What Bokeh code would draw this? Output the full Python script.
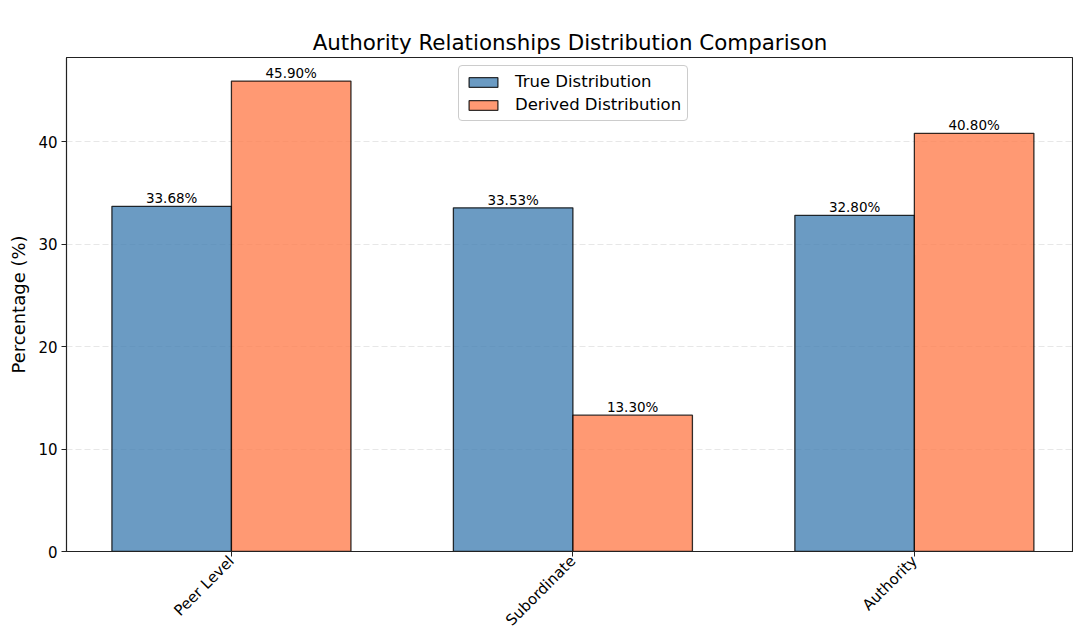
import math
import numpy as np
from bokeh.plotting import figure
from bokeh.models import ColumnDataSource, FixedTicker, Range1d, Title
from bokeh.embed import file_html
from bokeh.resources import INLINE
from bokeh.core.properties import value

categories = ["Peer Level", "Subordinate", "Authority"]
true_pct = [33.68, 33.53, 32.80]
derived_pct = [45.90, 13.30, 40.80]
y_ticks = [0, 10, 20, 30, 40]
series_names = ["True Distribution", "Derived Distribution"]
title_text = "Authority Relationships Distribution Comparison"

FONT = "DejaVu Sans"
BAR_W = 0.35
TRUE_COLOR = "#4682B4"
DERIVED_COLOR = "#FF7F50"

xpos = np.arange(len(categories))

src_true = ColumnDataSource(dict(
    x=xpos - BAR_W / 2, top=true_pct,
    label=[f"{v:.2f}%" for v in true_pct]))
src_der = ColumnDataSource(dict(
    x=xpos + BAR_W / 2, top=derived_pct,
    label=[f"{v:.2f}%" for v in derived_pct]))

p = figure(frame_width=1007, frame_height=494, output_backend="svg",
           toolbar_location=None,
           x_range=Range1d(-0.483, 2.466), y_range=Range1d(0, 48.2),
           min_border_left=66, min_border_right=0, min_border_top=57,
           min_border_bottom=0, title=" ")

p.background_fill_color = "white"
p.border_fill_color = "white"
p.outline_line_color = "#222222"
p.outline_line_width = 1.1

# the built-in title acts as an invisible spacer next to the frame
p.title.text_font_size = "10px"
p.title.standoff = 9
p.title.text_alpha = 0

# real chart title, stacked above the spacer
p.add_layout(Title(text=title_text, text_font=FONT, text_font_size="21.4px",
                   text_font_style="normal", align="center",
                   text_color="black", standoff=6), "above")

p.vbar(x="x", top="top", width=BAR_W, bottom=0, source=src_true,
       fill_color=TRUE_COLOR, fill_alpha=0.8, line_color="black",
       line_alpha=0.8, line_width=1.3, legend_label=series_names[0])
p.vbar(x="x", top="top", width=BAR_W, bottom=0, source=src_der,
       fill_color=DERIVED_COLOR, fill_alpha=0.8, line_color="black",
       line_alpha=0.8, line_width=1.3, legend_label=series_names[1])

for src in (src_true, src_der):
    p.text(x="x", y="top", text="label", source=src, text_align="center",
           text_baseline="bottom", text_font=value(FONT),
           text_font_size="13.5px", text_color="black", y_offset=0)

# axes
p.xaxis.ticker = FixedTicker(ticks=list(xpos))
p.xaxis.major_label_overrides = {int(i): c for i, c in zip(xpos, categories)}
p.xaxis.major_label_orientation = math.pi / 4
p.yaxis.ticker = FixedTicker(ticks=y_ticks)
for ax in (p.xaxis, p.yaxis):
    ax.major_label_text_font = FONT
    ax.major_label_text_font_size = "15px"
    ax.major_label_text_color = "black"
    ax.major_tick_in = 0
    ax.major_tick_out = 5
    ax.minor_tick_line_color = None
    ax.axis_line_color = "#222222"
    ax.major_tick_line_color = "#222222"
    ax.axis_line_width = 1.1
p.xaxis.major_label_standoff = 2
p.yaxis.major_label_standoff = 4
p.yaxis.axis_label = "Percentage (%)"
p.yaxis.axis_label_text_font = FONT
p.yaxis.axis_label_text_font_size = "18px"
p.yaxis.axis_label_text_font_style = "normal"
p.yaxis.axis_label_text_color = "black"
p.yaxis.axis_label_standoff = 6

p.xgrid.grid_line_color = None
p.ygrid.grid_line_color = "#b0b0b0"
p.ygrid.grid_line_alpha = 0.3
p.ygrid.grid_line_dash = "6 3"
p.ygrid.grid_line_width = 1

leg = p.legend[0]
leg.location = (392, 430)
leg.label_text_font = FONT
leg.label_text_font_size = "16.5px"
leg.label_text_color = "black"
leg.glyph_width = 36
leg.glyph_height = 12
leg.label_standoff = 14
leg.padding = 6
leg.spacing = 4
leg.margin = 0
leg.border_line_color = "#cccccc"
leg.border_line_alpha = 1
leg.border_radius = 4
leg.background_fill_alpha = 0.8

open("out.html", "w").write(file_html(p, INLINE))
